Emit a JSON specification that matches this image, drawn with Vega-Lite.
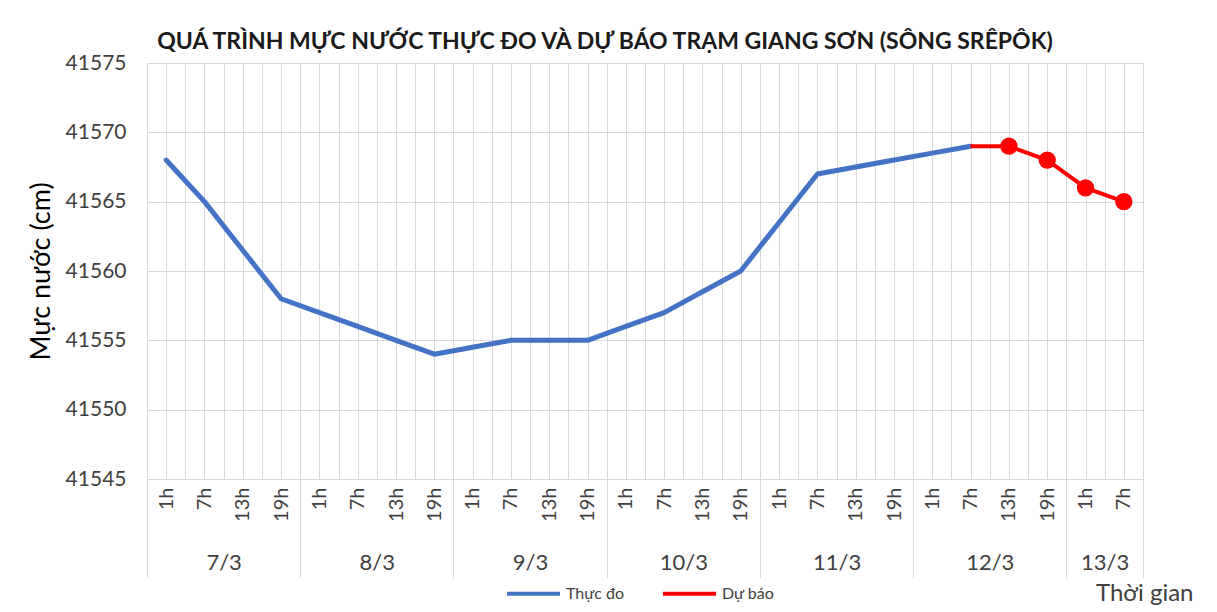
{
  "$schema": "https://vega.github.io/schema/vega-lite/v6.json",
  "width": 996,
  "height": 416,
  "autosize": {"type": "none"},
  "padding": {"left": 147, "top": 63, "right": 74, "bottom": 133},
  "background": "white",
  "config": {
    "font": "Lato",
    "view": {"stroke": "#d9d9d9", "strokeWidth": 1}
  },
  "title": {
    "text": "QUÁ TRÌNH MỰC NƯỚC THỰC ĐO VÀ DỰ BÁO TRẠM GIANG SƠN (SÔNG SRÊPÔK)",
    "font": "Lato",
    "fontSize": 23,
    "fontWeight": "bold",
    "color": "#1a1a1a",
    "anchor": "middle",
    "frame": "group",
    "dx": -40,
    "offset": -2
  },
  "data": {
    "values": [
      {"thoigian": "2024-03-07T01:00:00", "loai": "Thực đo", "mucnuoc": 41568},
      {"thoigian": "2024-03-07T07:00:00", "loai": "Thực đo", "mucnuoc": 41565},
      {"thoigian": "2024-03-07T13:00:00", "loai": "Thực đo", "mucnuoc": 41561.5},
      {"thoigian": "2024-03-07T19:00:00", "loai": "Thực đo", "mucnuoc": 41558},
      {"thoigian": "2024-03-08T01:00:00", "loai": "Thực đo", "mucnuoc": 41557},
      {"thoigian": "2024-03-08T07:00:00", "loai": "Thực đo", "mucnuoc": 41556},
      {"thoigian": "2024-03-08T13:00:00", "loai": "Thực đo", "mucnuoc": 41555},
      {"thoigian": "2024-03-08T19:00:00", "loai": "Thực đo", "mucnuoc": 41554},
      {"thoigian": "2024-03-09T01:00:00", "loai": "Thực đo", "mucnuoc": 41554.5},
      {"thoigian": "2024-03-09T07:00:00", "loai": "Thực đo", "mucnuoc": 41555},
      {"thoigian": "2024-03-09T13:00:00", "loai": "Thực đo", "mucnuoc": 41555},
      {"thoigian": "2024-03-09T19:00:00", "loai": "Thực đo", "mucnuoc": 41555},
      {"thoigian": "2024-03-10T01:00:00", "loai": "Thực đo", "mucnuoc": 41556},
      {"thoigian": "2024-03-10T07:00:00", "loai": "Thực đo", "mucnuoc": 41557},
      {"thoigian": "2024-03-10T13:00:00", "loai": "Thực đo", "mucnuoc": 41558.5},
      {"thoigian": "2024-03-10T19:00:00", "loai": "Thực đo", "mucnuoc": 41560},
      {"thoigian": "2024-03-11T01:00:00", "loai": "Thực đo", "mucnuoc": 41563.5},
      {"thoigian": "2024-03-11T07:00:00", "loai": "Thực đo", "mucnuoc": 41567},
      {"thoigian": "2024-03-11T13:00:00", "loai": "Thực đo", "mucnuoc": 41567.5},
      {"thoigian": "2024-03-11T19:00:00", "loai": "Thực đo", "mucnuoc": 41568},
      {"thoigian": "2024-03-12T01:00:00", "loai": "Thực đo", "mucnuoc": 41568.5},
      {"thoigian": "2024-03-12T07:00:00", "loai": "Thực đo", "mucnuoc": 41569},
      {"thoigian": "2024-03-12T07:00:00", "loai": "Dự báo", "mucnuoc": 41569},
      {"thoigian": "2024-03-12T13:00:00", "loai": "Dự báo", "mucnuoc": 41569},
      {"thoigian": "2024-03-12T19:00:00", "loai": "Dự báo", "mucnuoc": 41568},
      {"thoigian": "2024-03-13T01:00:00", "loai": "Dự báo", "mucnuoc": 41566},
      {"thoigian": "2024-03-13T07:00:00", "loai": "Dự báo", "mucnuoc": 41565}
    ]
  },
  "encoding": {
    "y": {
      "field": "mucnuoc",
      "type": "quantitative",
      "scale": {"domain": [41545, 41575], "nice": false, "zero": false},
      "axis": {
        "title": "Mực nước (cm)",
        "titleFont": "Lato",
        "titleFontSize": 27,
        "titleFontWeight": "normal",
        "titleColor": "#000000",
        "titlePadding": 10,
        "values": [41545, 41550, 41555, 41560, 41565, 41570, 41575],
        "labelFont": "Lato",
        "labelFontSize": 21,
        "labelColor": "#404040",
        "labelPadding": 21,
        "ticks": false,
        "domain": false,
        "grid": true,
        "gridColor": "#d9d9d9",
        "format": "d"
      }
    }
  },
  "layer": [
    {
      "transform": [{"filter": "datum.loai == 'Thực đo'"}],
      "mark": {"type": "line", "strokeWidth": 5, "strokeCap": "round", "strokeJoin": "round"},
      "encoding": {
        "x": {
          "field": "thoigian",
          "type": "temporal",
          "scale": {"domain": [
            {"year": 2024, "month": 3, "date": 6, "hours": 22},
            {"year": 2024, "month": 3, "date": 13, "hours": 10}
          ]},
          "axis": {
            "orient": "bottom",
            "title": null,
            "grid": true,
            "gridColor": "#d9d9d9",
            "ticks": false,
            "domain": true,
            "domainColor": "#d9d9d9",
            "labelAngle": -90,
            "labelAlign": "right",
            "labelBaseline": "middle",
            "labelPadding": 8,
            "labelFont": "Lato",
            "labelFontSize": 20,
            "labelColor": "#404040",
            "labelOverlap": false,
            "labelFlush": false,
            "labelExpr": "hours(datum.value) % 6 == 1 ? hours(datum.value) + 'h' : ''",
            "values": [
              {"year": 2024, "month": 3, "date": 6, "hours": 22},
              {"year": 2024, "month": 3, "date": 7, "hours": 1},
              {"year": 2024, "month": 3, "date": 7, "hours": 4},
              {"year": 2024, "month": 3, "date": 7, "hours": 7},
              {"year": 2024, "month": 3, "date": 7, "hours": 10},
              {"year": 2024, "month": 3, "date": 7, "hours": 13},
              {"year": 2024, "month": 3, "date": 7, "hours": 16},
              {"year": 2024, "month": 3, "date": 7, "hours": 19},
              {"year": 2024, "month": 3, "date": 7, "hours": 22},
              {"year": 2024, "month": 3, "date": 8, "hours": 1},
              {"year": 2024, "month": 3, "date": 8, "hours": 4},
              {"year": 2024, "month": 3, "date": 8, "hours": 7},
              {"year": 2024, "month": 3, "date": 8, "hours": 10},
              {"year": 2024, "month": 3, "date": 8, "hours": 13},
              {"year": 2024, "month": 3, "date": 8, "hours": 16},
              {"year": 2024, "month": 3, "date": 8, "hours": 19},
              {"year": 2024, "month": 3, "date": 8, "hours": 22},
              {"year": 2024, "month": 3, "date": 9, "hours": 1},
              {"year": 2024, "month": 3, "date": 9, "hours": 4},
              {"year": 2024, "month": 3, "date": 9, "hours": 7},
              {"year": 2024, "month": 3, "date": 9, "hours": 10},
              {"year": 2024, "month": 3, "date": 9, "hours": 13},
              {"year": 2024, "month": 3, "date": 9, "hours": 16},
              {"year": 2024, "month": 3, "date": 9, "hours": 19},
              {"year": 2024, "month": 3, "date": 9, "hours": 22},
              {"year": 2024, "month": 3, "date": 10, "hours": 1},
              {"year": 2024, "month": 3, "date": 10, "hours": 4},
              {"year": 2024, "month": 3, "date": 10, "hours": 7},
              {"year": 2024, "month": 3, "date": 10, "hours": 10},
              {"year": 2024, "month": 3, "date": 10, "hours": 13},
              {"year": 2024, "month": 3, "date": 10, "hours": 16},
              {"year": 2024, "month": 3, "date": 10, "hours": 19},
              {"year": 2024, "month": 3, "date": 10, "hours": 22},
              {"year": 2024, "month": 3, "date": 11, "hours": 1},
              {"year": 2024, "month": 3, "date": 11, "hours": 4},
              {"year": 2024, "month": 3, "date": 11, "hours": 7},
              {"year": 2024, "month": 3, "date": 11, "hours": 10},
              {"year": 2024, "month": 3, "date": 11, "hours": 13},
              {"year": 2024, "month": 3, "date": 11, "hours": 16},
              {"year": 2024, "month": 3, "date": 11, "hours": 19},
              {"year": 2024, "month": 3, "date": 11, "hours": 22},
              {"year": 2024, "month": 3, "date": 12, "hours": 1},
              {"year": 2024, "month": 3, "date": 12, "hours": 4},
              {"year": 2024, "month": 3, "date": 12, "hours": 7},
              {"year": 2024, "month": 3, "date": 12, "hours": 10},
              {"year": 2024, "month": 3, "date": 12, "hours": 13},
              {"year": 2024, "month": 3, "date": 12, "hours": 16},
              {"year": 2024, "month": 3, "date": 12, "hours": 19},
              {"year": 2024, "month": 3, "date": 12, "hours": 22},
              {"year": 2024, "month": 3, "date": 13, "hours": 1},
              {"year": 2024, "month": 3, "date": 13, "hours": 4},
              {"year": 2024, "month": 3, "date": 13, "hours": 7},
              {"year": 2024, "month": 3, "date": 13, "hours": 10}
            ]
          }
        },
        "color": {
          "field": "loai",
          "type": "nominal",
          "scale": {"domain": ["Thực đo", "Dự báo"], "range": ["#4472C4", "#FF0000"]},
          "legend": {
            "orient": "none",
            "legendX": 358,
            "legendY": 502,
            "direction": "horizontal",
            "title": null,
            "symbolType": "stroke",
            "symbolSize": 2800,
            "symbolStrokeWidth": 4,
            "labelFont": "Lato",
            "labelFontSize": 16,
            "labelColor": "#404040",
            "columnPadding": 30,
            "labelOffset": 4
          }
        }
      }
    },
    {
      "transform": [{"filter": "datum.loai == 'Dự báo'"}],
      "mark": {"type": "line", "strokeWidth": 4, "strokeJoin": "round"},
      "encoding": {
        "x": {
          "field": "thoigian",
          "type": "temporal",
          "scale": {"domain": [
            {"year": 2024, "month": 3, "date": 6, "hours": 22},
            {"year": 2024, "month": 3, "date": 13, "hours": 10}
          ]},
          "axis": {
            "orient": "bottom",
            "title": null,
            "grid": false,
            "labels": false,
            "domain": false,
            "ticks": true,
            "tickSize": 99,
            "tickColor": "#d9d9d9",
            "tickWidth": 1,
            "values": [
              {"year": 2024, "month": 3, "date": 6, "hours": 22},
              {"year": 2024, "month": 3, "date": 7, "hours": 22},
              {"year": 2024, "month": 3, "date": 8, "hours": 22},
              {"year": 2024, "month": 3, "date": 9, "hours": 22},
              {"year": 2024, "month": 3, "date": 10, "hours": 22},
              {"year": 2024, "month": 3, "date": 11, "hours": 22},
              {"year": 2024, "month": 3, "date": 12, "hours": 22},
              {"year": 2024, "month": 3, "date": 13, "hours": 10}
            ]
          }
        },
        "color": {
          "field": "loai",
          "type": "nominal",
          "scale": {"domain": ["Thực đo", "Dự báo"], "range": ["#4472C4", "#FF0000"]},
          "legend": {
            "orient": "none",
            "legendX": 358,
            "legendY": 502,
            "direction": "horizontal",
            "title": null,
            "symbolType": "stroke",
            "symbolSize": 2800,
            "symbolStrokeWidth": 4,
            "labelFont": "Lato",
            "labelFontSize": 16,
            "labelColor": "#404040",
            "columnPadding": 30,
            "labelOffset": 4
          }
        }
      }
    },
    {
      "transform": [
        {"filter": {"and": [
          {"field": "loai", "equal": "Dự báo"},
          {"field": "thoigian", "gt": {"year": 2024, "month": 3, "date": 12, "hours": 7}}
        ]}}
      ],
      "mark": {"type": "point", "filled": true, "size": 300, "opacity": 1, "color": "#FF0000"},
      "encoding": {
        "x": {
          "field": "thoigian",
          "type": "temporal",
          "scale": {"domain": [
            {"year": 2024, "month": 3, "date": 6, "hours": 22},
            {"year": 2024, "month": 3, "date": 13, "hours": 10}
          ]},
          "axis": {
            "orient": "bottom",
            "title": "Thời gian",
            "titleFont": "Lato",
            "titleFontSize": 24,
            "titleFontWeight": "normal",
            "titleColor": "#404040",
            "titleAlign": "right",
            "titleAnchor": null,
            "titleBaseline": "alphabetic",
            "titleX": 1046,
            "titleY": 121,
            "grid": false,
            "ticks": false,
            "domain": false,
            "labelPadding": 73,
            "labelFont": "Lato",
            "labelFontSize": 22,
            "labelColor": "#404040",
            "labelOverlap": false,
            "labelFlush": false,
            "labelExpr": "date(datum.value) + '/' + (month(datum.value) + 1)",
            "values": [
              {"year": 2024, "month": 3, "date": 7, "hours": 10},
              {"year": 2024, "month": 3, "date": 8, "hours": 10},
              {"year": 2024, "month": 3, "date": 9, "hours": 10},
              {"year": 2024, "month": 3, "date": 10, "hours": 10},
              {"year": 2024, "month": 3, "date": 11, "hours": 10},
              {"year": 2024, "month": 3, "date": 12, "hours": 10},
              {"year": 2024, "month": 3, "date": 13, "hours": 4}
            ]
          }
        }
      }
    }
  ],
  "resolve": {"axis": {"x": "independent"}}
}
